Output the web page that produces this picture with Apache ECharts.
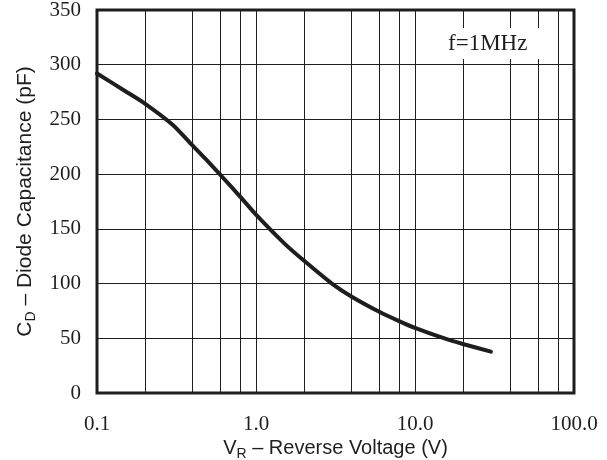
<!DOCTYPE html>
<html>
<head>
<meta charset="utf-8">
<script src="https://cdn.jsdelivr.net/npm/echarts@6/dist/echarts.min.js"></script>
<style>
  html, body { margin: 0; padding: 0; background: #fff; }
  #chart { width: 607px; height: 460px; }
</style>
</head>
<body>
<div id="chart"></div>
<script>
// ---- data ----
const voltage = [0.1, 0.15, 0.2, 0.3, 0.4, 0.5, 0.6, 0.8, 1.0, 1.5, 2, 3, 4, 6, 8, 10, 15, 20, 30];
const capacitance = [292, 276, 264.5, 245, 226, 211.5, 199, 179, 163, 137, 121, 100, 88, 74, 65.5, 59.5, 50.3, 44.8, 37.8];
const xTickLabels = ['0.1', '1.0', '10.0', '100.0'];
const minorGridX = [0.2, 0.4, 0.6, 0.8, 2, 4, 6, 8, 20, 40, 60, 80];
const noteText = 'f=1MHz';

const serif = 'Liberation Serif';
const sans = 'Liberation Sans';
const ink = '#1e1e1e';

function subRich(size) {
  return {
    n: { fontFamily: sans, fontSize: size, lineHeight: size, color: ink, verticalAlign: 'middle' },
    s: { fontFamily: sans, fontSize: 14, lineHeight: 14, color: ink, verticalAlign: 'middle', padding: [12, 0, 0, 0] }
  };
}

const chart = echarts.init(document.getElementById('chart'));
chart.setOption({
  animation: false,
  backgroundColor: '#fff',
  title: {
    text: noteText,
    left: 436,
    top: 30,
    backgroundColor: '#fff',
    padding: [4, 28, 4, 12],
    textStyle: { fontFamily: serif, fontSize: 23, fontWeight: 'normal', color: ink, lineHeight: 19 }
  },
  grid: {
    left: 97, right: 33, top: 10, bottom: 67,
    outerBoundsMode: 'none',
    containLabel: false,
    show: true, borderColor: ink, borderWidth: 3, backgroundColor: 'transparent'
  },
  xAxis: {
    type: 'log',
    logBase: 10,
    min: 0.1,
    max: 100,
    name: '{n|V}{s|R}{n| – Reverse Voltage (V)}',
    nameLocation: 'middle',
    nameGap: 45,
    nameMoveOverlap: false,
    nameTextStyle: { rich: subRich(20) },
    axisLine: { show: false },
    axisTick: { show: false },
    axisLabel: {
      margin: 21,
      fontFamily: serif, fontSize: 21, color: ink,
      formatter: function (v) {
        const i = Math.round(Math.log10(v) + 1);
        return xTickLabels[i] !== undefined ? xTickLabels[i] : '';
      }
    },
    splitLine: { show: true, lineStyle: { color: ink, width: 1 } }
  },
  yAxis: {
    type: 'value',
    min: 0,
    max: 350,
    interval: 50,
    name: '{n|C}{s|D}{n| – Diode Capacitance (pF)}',
    nameLocation: 'middle',
    nameGap: 61,
    nameMoveOverlap: false,
    nameTextStyle: { rich: subRich(21) },
    axisLine: { show: false },
    axisTick: { show: false },
    axisLabel: { margin: 16, fontFamily: serif, fontSize: 21, color: ink },
    splitLine: { show: true, lineStyle: { color: ink, width: 1 } }
  },
  series: [{
    type: 'line',
    data: voltage.map((v, i) => [v, capacitance[i]]),
    smooth: 0.25,
    showSymbol: false,
    lineStyle: { color: ink, width: 4, cap: 'round' },
    markLine: {
      silent: true,
      symbol: ['none', 'none'],
      label: { show: false },
      lineStyle: { color: ink, width: 1, type: 'solid' },
      data: minorGridX.map(v => ({ xAxis: v }))
    },
    z: 3
  }]
});
</script>
</body>
</html>
